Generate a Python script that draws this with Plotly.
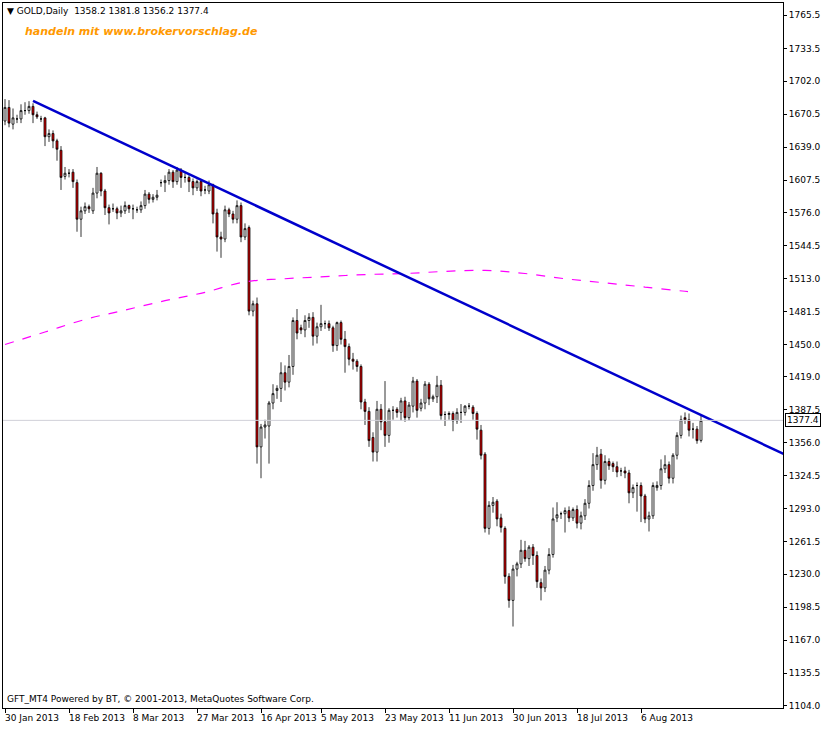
import plotly.graph_objects as go

# daily OHLC
opens = [1664, 1677, 1661, 1666, 1666, 1674, 1674, 1678, 1670, 1666, 1667, 1649, 1652, 1645, 1636, 1611, 1614, 1615, 1605, 1570,
         1578, 1582, 1578, 1595, 1614, 1597, 1581, 1580, 1580, 1576, 1578, 1583, 1580, 1579, 1579, 1583, 1594, 1589, 1591, 1605,
         1605, 1607, 1615, 1606, 1617, 1610, 1610, 1606, 1600, 1606, 1598, 1597, 1603, 1576, 1553, 1551, 1579, 1575, 1570, 1583,
         1553, 1562, 1482, 1489, 1352, 1371, 1372, 1394, 1406, 1408, 1423, 1414, 1429, 1473, 1466, 1464, 1473, 1476, 1458, 1467,
         1470, 1470, 1466, 1449, 1471, 1455, 1448, 1436, 1434, 1429, 1395, 1386, 1361, 1347, 1388, 1376, 1363, 1387, 1388, 1385,
         1396, 1380, 1391, 1415, 1389, 1394, 1412, 1398, 1400, 1411, 1383, 1383, 1384, 1377, 1385, 1385, 1391, 1390, 1384, 1368,
         1345, 1274, 1296, 1300, 1284, 1274, 1228, 1205, 1235, 1240, 1253, 1245, 1256, 1248, 1222, 1217, 1234, 1249, 1284, 1288,
         1288, 1291, 1284, 1292, 1279, 1286, 1298, 1315, 1335, 1345, 1320, 1338, 1336, 1333, 1329, 1329, 1327, 1308, 1315, 1315,
         1305, 1283, 1286, 1313, 1315, 1331, 1335, 1322, 1344, 1363, 1380, 1378, 1369, 1369, 1358.2]
closes = [1677, 1662, 1667, 1666, 1674, 1674, 1678, 1670, 1668, 1666, 1649, 1652, 1645, 1637, 1610, 1614, 1614, 1606, 1570, 1578,
          1582, 1580, 1595, 1614, 1597, 1581, 1576, 1580, 1576, 1578, 1583, 1580, 1580, 1579, 1583, 1594, 1589, 1591, 1593, 1605,
          1607, 1615, 1606, 1617, 1610, 1610, 1606, 1600, 1606, 1597, 1598, 1603, 1575, 1553, 1551, 1579, 1575, 1570, 1583, 1553,
          1561, 1482, 1489, 1352, 1371, 1373, 1394, 1403, 1408, 1423, 1414, 1429, 1473, 1461, 1464, 1473, 1476, 1458, 1467, 1470,
          1470, 1466, 1449, 1471, 1455, 1448, 1436, 1434, 1429, 1395, 1386, 1358, 1347, 1388, 1376, 1363, 1387, 1387, 1385, 1396,
          1380, 1392, 1415, 1387, 1394, 1412, 1398, 1400, 1411, 1382, 1383, 1384, 1377, 1385, 1385, 1391, 1391, 1384, 1369, 1344,
          1274, 1296, 1299, 1283, 1275, 1228, 1205, 1235, 1240, 1253, 1245, 1256, 1248, 1223, 1217, 1234, 1249, 1283, 1287, 1288,
          1291, 1284, 1292, 1279, 1286, 1298, 1315, 1335, 1344, 1320, 1338, 1334, 1333, 1328, 1329, 1327, 1308, 1313, 1315, 1305,
          1283, 1286, 1315, 1315, 1331, 1335, 1322, 1344, 1363, 1378, 1378, 1368, 1369, 1358, 1377.4]
highs = [1685, 1684, 1676, 1670, 1680, 1682, 1683, 1681, 1673, 1669, 1668, 1656, 1655, 1647, 1640, 1620, 1618, 1618, 1608, 1582,
         1586, 1584, 1600, 1620, 1615, 1599, 1584, 1585, 1582, 1583, 1587, 1584, 1584, 1582, 1587, 1598, 1596, 1594, 1598, 1608,
         1612, 1618, 1617, 1620, 1619, 1614, 1612, 1609, 1608, 1608, 1602, 1607, 1604, 1580, 1558, 1583, 1581, 1578, 1588, 1586,
         1566, 1564, 1492, 1495, 1374, 1378, 1396, 1412, 1411, 1433, 1430, 1440, 1476, 1484, 1469, 1478, 1480, 1481, 1471, 1488,
         1473, 1473, 1468, 1472, 1473, 1463, 1451, 1442, 1436, 1431, 1398, 1390, 1366, 1396, 1393, 1415, 1389, 1391, 1390, 1399,
         1400, 1395, 1419, 1417, 1398, 1415, 1414, 1402, 1420, 1416, 1386, 1386, 1386, 1389, 1393, 1392, 1394, 1392, 1386, 1373,
         1347, 1300, 1304, 1302, 1288, 1276, 1231, 1239, 1242, 1263, 1262, 1258, 1259, 1252, 1226, 1238, 1255, 1294, 1299, 1290,
         1294, 1295, 1294, 1296, 1290, 1302, 1320, 1346, 1352, 1350, 1344, 1341, 1338, 1338, 1332, 1333, 1330, 1316, 1318, 1318,
         1307, 1290, 1318, 1319, 1340, 1344, 1338, 1346, 1366, 1382, 1385, 1384, 1375, 1372, 1381.8]
lows = [1660, 1658, 1656, 1662, 1662, 1670, 1671, 1662, 1666, 1663, 1640, 1644, 1638, 1626, 1598, 1608, 1610, 1600, 1558, 1553,
        1575, 1576, 1575, 1590, 1592, 1574, 1565, 1577, 1570, 1572, 1575, 1576, 1570, 1576, 1576, 1580, 1585, 1586, 1588, 1601,
        1596, 1603, 1600, 1603, 1600, 1605, 1596, 1593, 1597, 1592, 1594, 1594, 1566, 1539, 1533, 1548, 1572, 1566, 1566, 1548,
        1550, 1478, 1477, 1336, 1322, 1360, 1336, 1388, 1398, 1395, 1406, 1409, 1421, 1455, 1460, 1457, 1466, 1449, 1451, 1463,
        1465, 1463, 1443, 1444, 1450, 1423, 1430, 1426, 1424, 1388, 1373, 1352, 1338, 1338, 1368, 1352, 1356, 1378, 1380, 1377,
        1376, 1377, 1385, 1380, 1386, 1388, 1392, 1395, 1394, 1378, 1372, 1378, 1367, 1374, 1375, 1382, 1388, 1378, 1359, 1340,
        1270, 1268, 1289, 1276, 1270, 1221, 1198, 1180, 1228, 1236, 1242, 1238, 1239, 1217, 1205, 1213, 1230, 1246, 1280, 1283,
        1270, 1280, 1281, 1274, 1273, 1282, 1293, 1310, 1330, 1312, 1316, 1330, 1328, 1323, 1324, 1322, 1298, 1303, 1290, 1280,
        1279, 1271, 1283, 1310, 1311, 1327, 1317, 1317, 1340, 1360, 1374, 1362, 1360, 1355, 1356.2]

# trend line end points (bar index, price) and moving average samples
trend_idx = [7, 195]
trend_px = [1683.4, 1344.6]
ma_idx = [0, 10, 20, 30, 40, 50, 60, 70, 80, 90, 100, 110, 120, 130, 140, 150, 160, 170, 173]
ma_px = [1450, 1462, 1474, 1483, 1492, 1500, 1510, 1513, 1515, 1517, 1518, 1520, 1521, 1518, 1513, 1509, 1505, 1501, 1500]

tick_idx = [0, 16, 32, 48, 64, 79, 95, 111, 127, 143, 159]
tick_lbl = ['30 Jan 2013', '18 Feb 2013', '8 Mar 2013', '27 Mar 2013', '16 Apr 2013', '5 May 2013',
            '23 May 2013', '11 Jun 2013', '30 Jun 2013', '18 Jul 2013', '6 Aug 2013']
y_ticks = [1104.0, 1135.5, 1167.0, 1198.5, 1230.0, 1261.5, 1293.0, 1324.5, 1356.0, 1387.5, 1419.0,
           1450.0, 1481.5, 1513.0, 1544.5, 1576.0, 1607.5, 1639.0, 1670.5, 1702.0, 1733.5, 1765.5]

idx = list(range(len(closes)))
last = closes[-1]

fig = go.Figure()
fig.add_hline(y=last, line=dict(color='#d0d0d8', width=1))
fig.add_trace(go.Scatter(x=ma_idx, y=ma_px, mode='lines', line=dict(color='#ff00ff', width=1.2, dash='dash', shape='spline'),
                         hoverinfo='skip'))
fig.add_trace(go.Candlestick(
    x=idx, open=opens, high=highs, low=lows, close=closes,
    increasing=dict(fillcolor='white', line=dict(color='black', width=0.8)),
    decreasing=dict(fillcolor='#e00000', line=dict(color='black', width=0.8)),
    whiskerwidth=0,
))
fig.add_trace(go.Scatter(x=trend_idx, y=trend_px, mode='lines', line=dict(color='#0000cc', width=2.5), hoverinfo='skip'))

# MT4 puts the date text to the right of its tick
lbl_annots = [dict(xref='x', yref='paper', x=i - 0.5, y=0, xanchor='left', yanchor='top', yshift=-3,
                   showarrow=False, text=t, font=dict(size=9)) for i, t in zip(tick_idx, tick_lbl)]

fig.update_layout(
    width=824, height=729,
    margin=dict(l=3, r=41, t=3, b=21, autoexpand=False),
    paper_bgcolor='white', plot_bgcolor='white',
    showlegend=False,
    font=dict(family='DejaVu Sans', size=9, color='black'),
    xaxis=dict(range=[-0.5, 194.5], rangeslider=dict(visible=False), tickvals=tick_idx, showticklabels=False,
               showgrid=False, zeroline=False, showline=True, mirror=True, linecolor='black', linewidth=1,
               ticks='outside', ticklen=4, tickcolor='black', automargin=False),
    yaxis=dict(range=[1102, 1777], side='right', tickvals=y_ticks, ticktext=['%.1f' % v for v in y_ticks],
               showgrid=False, zeroline=False, showline=True, mirror=True, linecolor='black', linewidth=1,
               ticks='outside', ticklen=3, tickcolor='black', automargin=False, tickfont=dict(size=9)),
    annotations=lbl_annots + [
        dict(xref='paper', yref='paper', x=0.003, y=0.999, xanchor='left', yanchor='top', showarrow=False,
             text='▼ GOLD,Daily  1358.2 1381.8 1356.2 1377.4', font=dict(size=9)),
        dict(xref='paper', yref='paper', x=0.025, y=0.972, xanchor='left', yanchor='top', showarrow=False,
             text='<b><i>handeln mit www.brokervorschlag.de</i></b>', font=dict(size=11, color='#ff9900')),
        dict(xref='paper', yref='paper', x=0.003, y=0.003, xanchor='left', yanchor='bottom', showarrow=False,
             text='GFT_MT4 Powered by BT, © 2001-2013, MetaQuotes Software Corp.', font=dict(size=9)),
        dict(xref='paper', yref='y', x=1.002, y=last, xanchor='left', yanchor='middle', showarrow=False,
             text='%.1f' % last, font=dict(size=9), bgcolor='white', bordercolor='black', borderwidth=1, borderpad=1),
    ],
)

fig.write_html('out.html', config={'displayModeBar': False}, post_script="document.body.style.margin='0';")
